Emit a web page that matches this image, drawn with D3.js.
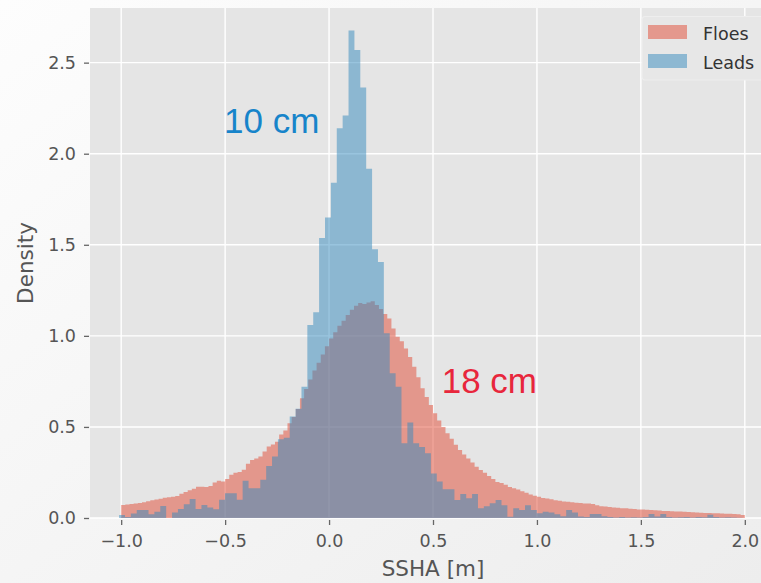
<!DOCTYPE html>
<html>
<head>
<meta charset="utf-8">
<script src="https://cdn.jsdelivr.net/npm/d3@7"></script>
<style>
	html, body { margin: 0; padding: 0; overflow: hidden; }
	svg { display: block; }
</style>
</head>
<body>
<div id="chart"></div>
<script>

// histogram densities
var floesBinStart = -1.0, floesBinWidth = 0.02;
var floesDensity = [
	0.071, 0.074, 0.077, 0.079, 0.082, 0.086, 0.092, 0.097, 0.101, 0.106,
	0.111, 0.114, 0.117, 0.121, 0.133, 0.143, 0.152, 0.161, 0.171, 0.172,
	0.170, 0.176, 0.195, 0.205, 0.200, 0.214, 0.238, 0.248, 0.252, 0.265,
	0.298, 0.318, 0.326, 0.337, 0.365, 0.392, 0.404, 0.418, 0.458, 0.480,
	0.520, 0.555, 0.598, 0.658, 0.708, 0.760, 0.810, 0.853, 0.898, 0.943,
	0.985, 1.020, 1.056, 1.083, 1.115, 1.143, 1.165, 1.180, 1.175, 1.183,
	1.190, 1.170, 1.148, 1.120, 1.095, 1.040, 0.995, 0.970, 0.930, 0.884,
	0.830, 0.773, 0.712, 0.665, 0.620, 0.575, 0.535, 0.500, 0.465, 0.435,
	0.402, 0.374, 0.349, 0.327, 0.305, 0.282, 0.264, 0.248, 0.231, 0.214,
	0.198, 0.192, 0.183, 0.170, 0.163, 0.156, 0.147, 0.138, 0.129, 0.122,
	0.116, 0.110, 0.107, 0.103, 0.098, 0.095, 0.091, 0.089, 0.087, 0.084,
	0.082, 0.080, 0.079, 0.077, 0.070, 0.065, 0.063, 0.061, 0.058, 0.056,
	0.054, 0.053, 0.051, 0.049, 0.047, 0.046, 0.045, 0.044, 0.042, 0.041,
	0.039, 0.038, 0.037, 0.036, 0.036, 0.035, 0.033, 0.032, 0.030, 0.029,
	0.028, 0.027, 0.026, 0.026, 0.025, 0.024, 0.023, 0.022, 0.020, 0.017
];

var leadsBinStart = -1.01, leadsBinWidth = 0.0283;
var leadsDensity = [
	0.016, 0.005, 0.025, 0.044, 0.044, 0.020, 0.035, 0.066, 0.000, 0.030,
	0.050, 0.075, 0.105, 0.050, 0.072, 0.058, 0.048, 0.100, 0.136, 0.136,
	0.100, 0.205, 0.163, 0.163, 0.210, 0.286, 0.337, 0.432, 0.440, 0.557,
	0.600, 0.720, 1.060, 1.130, 1.537, 1.650, 1.840, 2.140, 2.210, 2.676,
	2.570, 2.364, 1.918, 1.476, 1.405, 1.015, 0.795, 0.720, 0.410, 0.524,
	0.410, 0.390, 0.355, 0.245, 0.200, 0.158, 0.158, 0.099, 0.132, 0.108,
	0.132, 0.053, 0.065, 0.081, 0.099, 0.070, 0.007, 0.053, 0.044, 0.070,
	0.044, 0.026, 0.035, 0.030, 0.020, 0.010, 0.044, 0.030, 0.008, 0.005,
	0.022, 0.022, 0.010, 0.005, 0.003, 0.005, 0.003, 0.004, 0.003, 0.005,
	0.022, 0.008, 0.022, 0.005, 0.003, 0.004, 0.006, 0.003, 0.005, 0.004,
	0.018, 0.005, 0.003, 0.004, 0.003, 0.002
];

var seriesNames = ["Floes", "Leads"];
var seriesColors = ["#E24A33", "#348ABD"];
var xTicks = [-1.0, -0.5, 0.0, 0.5, 1.0, 1.5, 2.0];
var yTicks = [0.0, 0.5, 1.0, 1.5, 2.0, 2.5];
var xLabel = "SSHA [m]", yLabel = "Density";
var notes = [{text: "10 cm", x: -0.505, y: 2.115, color: "#1784CA"},
	{text: "18 cm", x: 0.542, y: 0.685, color: "#E8263C"}];

var width = 761, height = 583;
var plotLeft = 90, plotRight = 776, plotTop = 8, plotBottom = 518;

var svg = d3.select("#chart").append("svg")
	.attr("width", width).attr("height", height)
	.style("font-family", "'DejaVu Sans', sans-serif");

var defs = svg.append("defs");
var bg = defs.append("linearGradient").attr("id", "bg")
	.attr("x1", "0").attr("y1", "0").attr("x2", "1").attr("y2", "1");
bg.append("stop").attr("offset", "0").attr("stop-color", "#fdfdfd");
bg.append("stop").attr("offset", "1").attr("stop-color", "#ededed");

svg.append("rect").attr("width", width).attr("height", height).attr("fill", "url(#bg)");

var x = d3.scaleLinear().domain([-1.15, 2.15]).range([plotLeft, plotRight]);
var y = d3.scaleLinear().domain([0, 2.8]).range([plotBottom, plotTop]);

svg.append("rect")
	.attr("x", plotLeft).attr("y", plotTop)
	.attr("width", plotRight - plotLeft).attr("height", plotBottom - plotTop)
	.attr("fill", "#e5e5e5");

// grid
var grid = svg.append("g").attr("stroke", "#ffffff").attr("stroke-width", 1.4);
grid.selectAll("line.vg").data(xTicks).enter().append("line")
	.attr("x1", function(d){ return x(d); }).attr("x2", function(d){ return x(d); })
	.attr("y1", plotTop).attr("y2", plotBottom);
grid.selectAll("line.hg").data(yTicks).enter().append("line")
	.attr("y1", function(d){ return y(d); }).attr("y2", function(d){ return y(d); })
	.attr("x1", plotLeft).attr("x2", plotRight);

function steps(values, start, w){
	var pts = values.map(function(v, i){ return {x: start + i * w, v: v}; });
	pts.push({x: start + values.length * w, v: values[values.length - 1]});
	return pts;
}

var area = d3.area()
	.curve(d3.curveStepAfter)
	.x(function(d){ return x(d.x); })
	.y0(y(0))
	.y1(function(d){ return y(d.v); });

var hists = [steps(floesDensity, floesBinStart, floesBinWidth),
	steps(leadsDensity, leadsBinStart, leadsBinWidth)];

svg.append("g").selectAll("path.hist")
	.data(hists).enter()
	.append("path")
	.attr("class", "hist")
	.attr("d", area)
	.attr("fill", function(d, i){ return seriesColors[i]; })
	.attr("fill-opacity", 0.5);

// axes
var fmt = function(d){ return d3.format(".1f")(d).replace("-", "\u2212"); };

var xAxis = svg.append("g")
	.attr("transform", "translate(0," + plotBottom + ")")
	.call(d3.axisBottom(x).tickValues(xTicks).tickFormat(fmt).tickSize(5).tickPadding(5));
var yAxis = svg.append("g")
	.attr("transform", "translate(" + (plotLeft - 1) + ",0)")
	.call(d3.axisLeft(y).tickValues(yTicks).tickFormat(fmt).tickSize(5).tickPadding(8));

[xAxis, yAxis].forEach(function(a){
	a.select(".domain").remove();
	a.selectAll(".tick line").attr("stroke", "#666").attr("stroke-width", 1.3);
	a.selectAll(".tick text").attr("fill", "#555")
		.style("font-family", "'DejaVu Sans', sans-serif").style("font-size", "17.5px");
});
xAxis.selectAll(".tick line").attr("y1", 2).attr("y2", 7);
xAxis.selectAll(".tick text").attr("dy", null).attr("y", 29);

svg.append("text")
	.attr("x", (plotLeft + plotRight) / 2).attr("y", 576)
	.attr("text-anchor", "middle").attr("fill", "#555")
	.style("font-size", "21.5px").text(xLabel);

svg.append("text")
	.attr("transform", "translate(33," + ((plotTop + plotBottom) / 2) + ") rotate(-90)")
	.attr("text-anchor", "middle").attr("fill", "#555")
	.style("font-size", "21.5px").text(yLabel);

// annotations
svg.selectAll("text.note").data(notes).enter().append("text")
	.attr("class", "note")
	.attr("x", function(d){ return x(d.x); })
	.attr("y", function(d){ return y(d.y); })
	.attr("fill", function(d){ return d.color; })
	.style("font-family", "'Liberation Sans', Arial, sans-serif")
	.style("font-size", "35px")
	.text(function(d){ return d.text; });

// legend
var legend = svg.append("g").attr("transform", "translate(642,16.5)");
legend.append("rect")
	.attr("width", 130).attr("height", 63.5).attr("rx", 3)
	.attr("fill", "#e7e7e7").attr("stroke", "#eeeeee").attr("stroke-width", 1.2);
var items = legend.selectAll("g.item").data(seriesNames).enter().append("g")
	.attr("class", "item")
	.attr("transform", function(d, i){ return "translate(0," + (i * 29) + ")"; });
items.append("rect")
	.attr("x", 6).attr("y", 8.5).attr("width", 39).attr("height", 14)
	.attr("fill", function(d, i){ return seriesColors[i]; })
	.attr("fill-opacity", 0.5);
items.append("text")
	.attr("x", 61).attr("y", 23)
	.attr("fill", "#333")
	.style("font-size", "17.5px")
	.text(function(d){ return d; });

</script>
</body>
</html>
